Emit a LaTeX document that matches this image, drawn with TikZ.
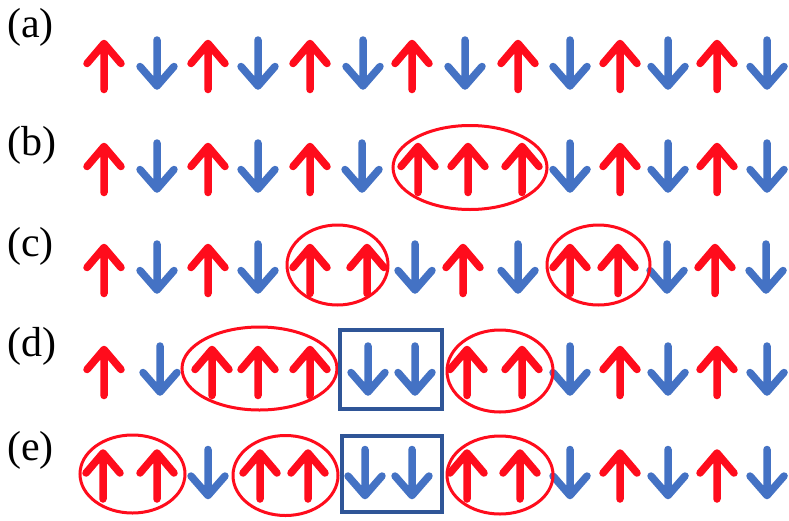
\documentclass[tikz,border=0pt]{standalone}
\usepackage{fontspec}
\setmainfont{Liberation Serif}
\definecolor{spinred}{RGB}{255,12,28}
\definecolor{spinblue}{RGB}{68,114,196}
\definecolor{boxblue}{RGB}{47,85,151}
\tikzset{
  upspin/.style={draw=spinred, line width=7.5pt, line cap=round, line join=round},
  dnspin/.style={draw=spinblue, line width=7.5pt, line cap=round, line join=round},
  cluster/.style={draw=spinred, line width=3pt},
  pairbox/.style={draw=boxblue, line width=4.5pt},
  rowlabel/.style={anchor=west, inner sep=0pt, font=\fontsize{42}{46}\selectfont},
}
% spin arrows: #1 = x, #2 = vertical centre of the up-spins in the row
\newcommand\spinup[2]{\draw[upspin] (#1,#2+23) -- (#1,#2-23)
  (#1-17,#2-3) -- (#1,#2-23) -- (#1+17,#2-3);}
\newcommand\spindn[2]{\draw[dnspin] (#1,#2-26.5) -- (#1,#2+19.5)
  (#1-17,#2) -- (#1,#2+19.5) -- (#1+17,#2);}
\begin{document}
\begin{tikzpicture}[x=1pt, y=-1pt]
  \useasboundingbox (0,0) rectangle (789,520);
  \fill[white] (0,0) rectangle (789,520);

  % row labels
  \node[rowlabel] (la) at (7,27) {(a)};
  \node[rowlabel] (lb) at (7,145) {(b)};
  \node[rowlabel] (lc) at (7,246) {(c)};
  \node[rowlabel] (ld) at (7,346) {(d)};
  \node[rowlabel] (le) at (7,450) {(e)};

  % (a) perfect antiferromagnetic order
  \foreach \x in {104,208,310,412,518,620,717} {\spinup{\x}{66.5}}
  \foreach \x in {157,258,363,465,570,668,767} {\spindn{\x}{66.5}}

  % (b)
  \foreach \x in {104,208,310,418,468,522,620,717} {\spinup{\x}{169.5}}
  \foreach \x in {157,258,362,570,668,767} {\spindn{\x}{169.5}}
  \draw[cluster] (470,167.5) ellipse [x radius=77pt, y radius=42pt];

  % (c)
  \foreach \x in {104,208,310,367,463,570,618,715} {\spinup{\x}{270.5}}
  \foreach \x in {157,258,415,518,667,766} {\spindn{\x}{270.5}}
  \draw[cluster] (337.5,265) ellipse [x radius=50.5pt, y radius=40pt];
  \draw[cluster] (598.5,265) ellipse [x radius=51.5pt, y radius=40pt];

  % (d)
  \foreach \x in {104,212,258,310,467,522,620,717} {\spinup{\x}{372.5}}
  \foreach \x in {160,368,415,570,668,767} {\spindn{\x}{372.5}}
  \draw[cluster] (259.5,368.5) ellipse [x radius=77.5pt, y radius=41.5pt];
  \draw[cluster] (500,371) ellipse [x radius=53pt, y radius=41pt];
  \draw[pairbox] (340,330) rectangle (442,409);

  % (e)
  \foreach \x in {103,157,260,308,467,520,620,717} {\spinup{\x}{476}}
  \foreach \x in {208,365,412,570,668,767} {\spindn{\x}{476}}
  \draw[cluster] (132.5,474) ellipse [x radius=52.5pt, y radius=39pt];
  \draw[cluster] (285.5,475.5) ellipse [x radius=52.5pt, y radius=40pt];
  \draw[cluster] (500,475) ellipse [x radius=53pt, y radius=39pt];
  \draw[pairbox] (342,436) rectangle (442,512);
\end{tikzpicture}
\end{document}
